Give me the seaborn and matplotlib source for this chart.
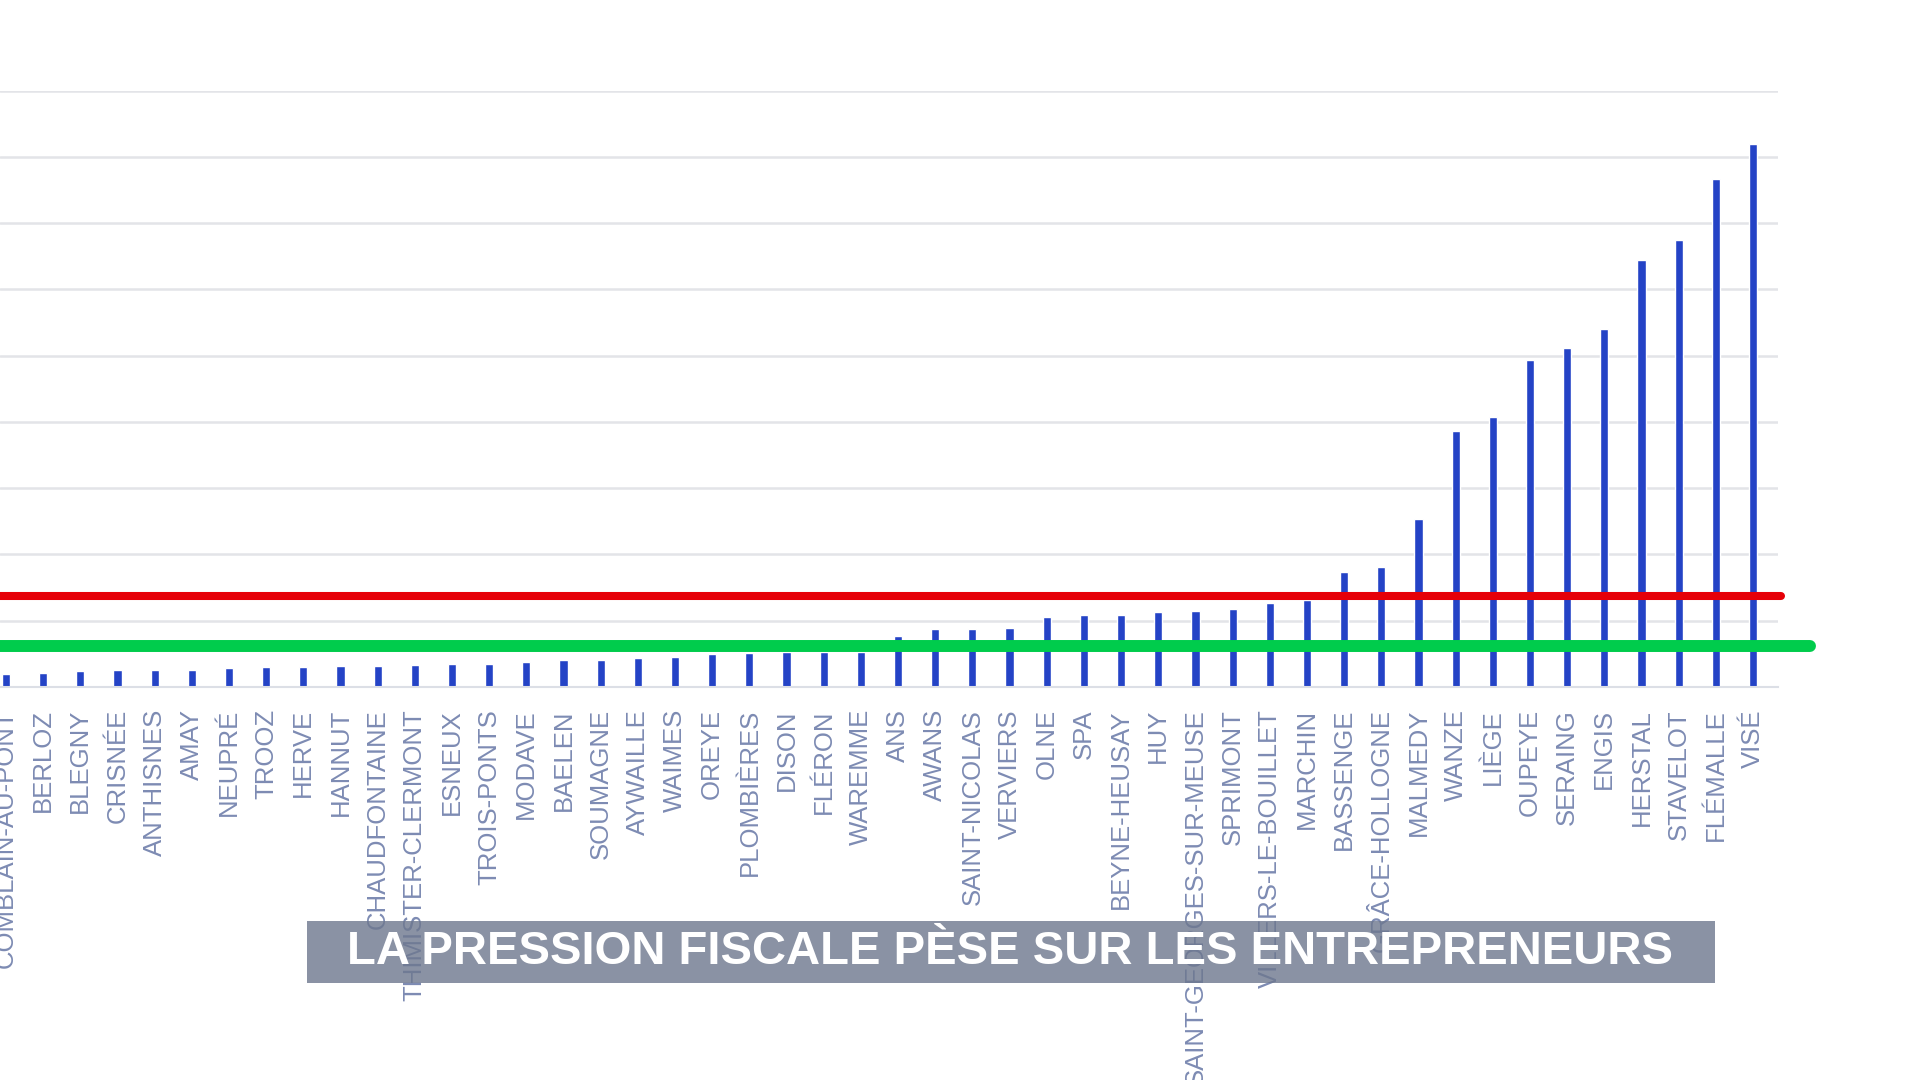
import matplotlib
matplotlib.use("Agg")
import matplotlib.pyplot as plt
import seaborn as sns
from matplotlib.patches import Rectangle

communes = [
    "COMBLAIN-AU-PONT", "BERLOZ", "BLEGNY", "CRISNÉE", "ANTHISNES", "AMAY",
    "NEUPRÉ", "TROOZ", "HERVE", "HANNUT", "CHAUDFONTAINE", "THIMISTER-CLERMONT",
    "ESNEUX", "TROIS-PONTS", "MODAVE", "BAELEN", "SOUMAGNE", "AYWAILLE",
    "WAIMES", "OREYE", "PLOMBIÈRES", "DISON", "FLÉRON", "WAREMME", "ANS",
    "AWANS", "SAINT-NICOLAS", "VERVIERS", "OLNE", "SPA", "BEYNE-HEUSAY", "HUY",
    "SAINT-GEORGES-SUR-MEUSE", "SPRIMONT", "VILLERS-LE-BOUILLET", "MARCHIN",
    "BASSENGE", "GRÂCE-HOLLOGNE", "MALMEDY", "WANZE", "LIÈGE", "OUPEYE",
    "SERAING", "ENGIS", "HERSTAL", "STAVELOT", "FLÉMALLE", "VISÉ",
]
values = [
    1.9, 2.1, 2.4, 2.5, 2.6, 2.6,
    2.9, 3.0, 3.0, 3.1, 3.1, 3.3,
    3.4, 3.5, 3.8, 4.0, 4.1, 4.3,
    4.5, 4.9, 5.1, 5.2, 5.2, 5.3, 7.7,
    8.8, 8.8, 8.9, 10.5, 10.8, 10.9, 11.3,
    11.4, 11.7, 12.7, 13.1,
    17.4, 18.1, 25.4, 38.6, 40.8, 49.4,
    51.2, 54.1, 64.4, 67.4, 76.6, 82.0,
]
red_level = 13.7
green_level = 6.1
grid_ticks = [10, 20, 30, 40, 50, 60, 70, 80, 90]
banner_text = "LA PRESSION FISCALE PÈSE SUR LES ENTREPRENEURS"

sns.set_theme(style="white")
plt.rcParams["font.family"] = ["Liberation Sans", "DejaVu Sans"]

fig = plt.figure(figsize=(19.2, 10.8), dpi=100)
ax = fig.add_axes([0.0, 0.364, 0.926, 0.552])

sns.barplot(x=communes, y=values, color="#2443c6", saturation=1,
            width=0.22, ax=ax, zorder=2)

for g in grid_ticks:
    ax.axhline(g, color="#e3e4e8", linewidth=1.8, zorder=1)

ax.axhline(red_level, xmin=0, xmax=1.002, color="#e60008",
           linewidth=5.8, zorder=4, clip_on=False)
ax.axhline(green_level, xmin=0, xmax=1.018, color="#00cc4c",
           linewidth=8.6, zorder=4, clip_on=False)

ax.set_xlim(-0.16, len(communes) - 1 + 0.67)
ax.set_ylim(0, 90)
ax.set_yticks([])
ax.set_xlabel("")
ax.set_ylabel("")
for side in ["top", "right", "left"]:
    ax.spines[side].set_visible(False)
ax.spines["bottom"].set_color("#dcdfe6")
ax.spines["bottom"].set_linewidth(1.5)

ax.set_xticks(range(len(communes)))
ax.set_xticklabels(communes, rotation=90, fontsize=18.5, color="#7d8bb3")
ax.tick_params(axis="x", length=0, pad=16)

# banner across the bottom, labels show a little through it
fig.add_artist(Rectangle((0.160, 0.0898), 0.733, 0.0574,
                         transform=fig.transFigure, facecolor="#6d778e",
                         alpha=0.8, edgecolor="none", zorder=5))
fig.text(0.5263, 0.1185, banner_text, color="white", fontsize=34,
         fontweight="bold", ha="center", va="center", zorder=6)

fig.savefig("out.png", dpi=100)
